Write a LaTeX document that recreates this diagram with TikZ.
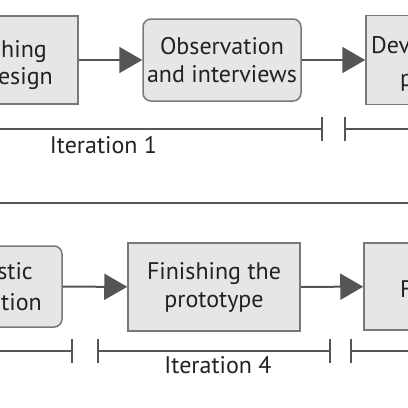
\documentclass[tikz,border=0pt]{standalone}
\usepackage{fontspec}
\setmainfont{PT Sans}
\usetikzlibrary{arrows.meta}
\definecolor{boxfill}{HTML}{E6E6E6}
\definecolor{boxline}{HTML}{787878}
\definecolor{inkgray}{HTML}{555555}
\definecolor{textgray}{HTML}{222222}
\begin{document}
\begin{tikzpicture}[x=1pt,y=-1pt,
  lbl/.style={text=textgray,inner sep=0pt,align=center,font=\fontsize{24}{28}\selectfont},
  sqbox/.style={lbl,draw=boxline,fill=boxfill,line width=1.5pt},
  rdbox/.style={sqbox,rounded corners=8pt},
  flow/.style={draw=inkgray,line width=2pt,-{Triangle[length=23pt,width=26pt]}},
  span/.style={draw=inkgray,line width=2pt}]
  \path[use as bounding box] (0,0) rectangle (408,408);
  \clip (0,0) rectangle (408,408);
  % top row
  \node[sqbox,minimum width=172pt,minimum height=88pt] (design) at (-8,60) {};
  \node[lbl,anchor=base east] (design1) at (47,57) {hing};
  \node[lbl,anchor=base east] (design2) at (53,84) {esign};
  \node[rdbox,minimum width=158pt,minimum height=82pt] (obs) at (222,60) {Observation\\and interviews};
  \node[sqbox,minimum width=172pt,minimum height=89pt] (dev) at (452,60) {};
  \node[lbl,anchor=base west] (dev1) at (371,53) {Dev};
  \node[lbl,anchor=base west] (dev2) at (400,86) {p};
  \draw[flow] (design) -- (obs);
  \draw[flow] (obs) -- (dev);
  \draw[span,-{Bar[width=24pt]}] (-10,129) -- (323,129);
  \draw[span,{Bar[width=24pt]}-] (344,129) -- (420,129);
  \node[lbl,anchor=base] (iter1) at (103.5,153) {Iteration 1};
  \draw[span] (-10,203) -- (420,203);
  % bottom row
  \node[rdbox,minimum width=158pt,minimum height=81pt] (eval) at (-17,286.5) {};
  \node[lbl,anchor=base east] (eval1) at (33,279) {stic};
  \node[lbl,anchor=base east] (eval2) at (42,310) {tion};
  \node[sqbox,minimum width=172pt,minimum height=88pt] (finish) at (214,287) {Finishing the\\prototype};
  \node[sqbox,minimum width=172pt,minimum height=87pt] (final) at (450,286.5) {};
  \node[lbl,anchor=base west] (final1) at (400,297) {F};
  \draw[flow] (eval) -- (finish);
  \draw[flow] (finish) -- (final);
  \draw[span,-{Bar[width=24pt]}] (-10,351) -- (73,351);
  \draw[span,{Bar[width=24pt]}-{Bar[width=24pt]}] (97,351) -- (331,351);
  \draw[span,{Bar[width=24pt]}-] (350,351) -- (420,351);
  \node[lbl,anchor=base] (iter4) at (218,373) {Iteration 4};
\end{tikzpicture}
\end{document}
